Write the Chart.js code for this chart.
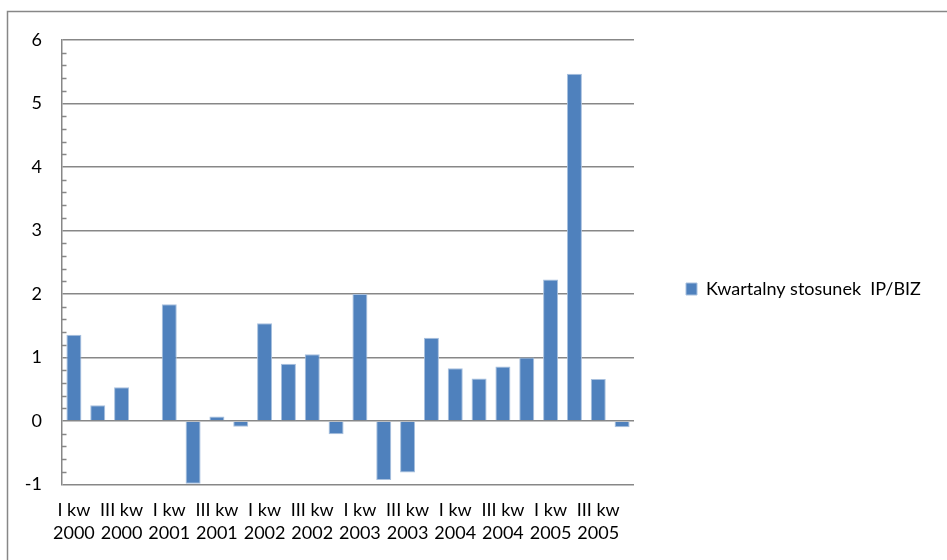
<!DOCTYPE html>
<html lang="pl">
<head>
<meta charset="utf-8">
<title>Kwartalny stosunek IP/BIZ</title>
<script src="https://cdn.jsdelivr.net/npm/chart.js@4/dist/chart.umd.min.js"></script>
<style>
  html, body { margin: 0; padding: 0; background: #ffffff; }
  #wrap { position: relative; width: 947px; height: 560px; }
</style>
</head>
<body>
<div id="wrap"><canvas id="chart" width="947" height="560"></canvas></div>
<script>
// Quarters 2000-2005
const quarters = [
  'I kw 2000', 'II kw 2000', 'III kw 2000', 'IV kw 2000',
  'I kw 2001', 'II kw 2001', 'III kw 2001', 'IV kw 2001',
  'I kw 2002', 'II kw 2002', 'III kw 2002', 'IV kw 2002',
  'I kw 2003', 'II kw 2003', 'III kw 2003', 'IV kw 2003',
  'I kw 2004', 'II kw 2004', 'III kw 2004', 'IV kw 2004',
  'I kw 2005', 'II kw 2005', 'III kw 2005', 'IV kw 2005'
];

// Quarterly IP/BIZ ratio
const ratioIpBiz = [
  1.36, 0.25, 0.53, null,
  1.84, -0.99, 0.07, -0.09,
  1.54, 0.90, 1.05, -0.21,
  2.00, -0.93, -0.81, 1.31,
  0.83, 0.67, 0.86, 1.00,
  2.23, 5.47, 0.66, -0.10
];

const seriesName = 'Kwartalny stosunek  IP/BIZ';
const yTicks = [-1, 0, 1, 2, 3, 4, 5, 6];

const GRID = '#878787';
const BAR = '#4f81bd';
const FONT = 'Lato, "Open Sans", "DejaVu Sans", sans-serif';
const FONT_SIZE = 18;

// Plot-area geometry inside the 947x560 canvas
const CANVAS_W = 947;
const PLOT_RIGHT = 634;
const LEGEND_PAD = 52;
const LEGEND_BOX = 11;

// Reserve exactly the room the legend needs on the right
const measure = document.createElement('canvas').getContext('2d');
measure.font = `${FONT_SIZE}px ${FONT}`;
const legendItemWidth = LEGEND_BOX + FONT_SIZE / 2 + measure.measureText(seriesName).width;
const legendWidth = LEGEND_PAD + legendItemWidth + 10;
const rightPad = CANVAS_W - PLOT_RIGHT - legendWidth;

// Outer frame of the chart object and the small inner ticks on the value axis
const decorations = {
  id: 'decorations',
  beforeDraw(chart) {
    const ctx = chart.ctx;
    ctx.save();
    ctx.strokeStyle = GRID;
    ctx.lineWidth = 1.5;
    ctx.strokeRect(7.5, 11.5, 1200, 1200);
    ctx.restore();
  },
  afterDraw(chart) {
    const y = chart.scales.y;
    const ctx = chart.ctx;
    const left = chart.chartArea.left;
    ctx.save();
    ctx.strokeStyle = GRID;
    ctx.lineWidth = 1.5;
    const lo = yTicks[0], hi = yTicks[yTicks.length - 1];
    for (let i = lo * 5; i <= hi * 5; i++) {
      if (i % 5 === 0) continue;
      const py = Math.round(y.getPixelForValue(i / 5)) + 0.5;
      ctx.beginPath();
      ctx.moveTo(left, py);
      ctx.lineTo(left + 4.5, py);
      ctx.stroke();
    }
    ctx.restore();
  }
};

new Chart(document.getElementById('chart'), {
  type: 'bar',
  data: {
    labels: quarters,
    datasets: [{
      label: seriesName,
      data: ratioIpBiz,
      backgroundColor: BAR,
      borderColor: '#a8c0de',
      borderWidth: 1,
      categoryPercentage: 0.63,
      barPercentage: 1.0
    }]
  },
  options: {
    responsive: false,
    animation: false,
    devicePixelRatio: 1,
    layout: { padding: { left: 7, top: 40, right: rightPad, bottom: 10 } },
    plugins: {
      tooltip: { enabled: false },
      legend: {
        position: 'right',
        align: 'center',
        fullSize: false,
        maxWidth: 600,
        title: { display: true, text: '', padding: { top: 41.5, bottom: 0 }, font: { size: 10 } },
        labels: {
          boxWidth: LEGEND_BOX,
          boxHeight: 12,
          padding: LEGEND_PAD,
          color: '#000000',
          font: { family: FONT, size: FONT_SIZE }
        }
      }
    },
    scales: {
      x: {
        type: 'category',
        offset: true,
        grid: { display: false, drawTicks: false },
        border: { display: false },
        afterFit(scale) { scale.height = 65.5; },
        ticks: {
          autoSkip: false,
          maxRotation: 0,
          minRotation: 0,
          padding: 14,
          color: '#000000',
          font: { family: FONT, size: FONT_SIZE, lineHeight: 1.28 },
          callback(value, index) {
            if (index % 2 !== 0) return '';
            const label = quarters[index];
            const cut = label.lastIndexOf(' ');
            return [label.slice(0, cut), label.slice(cut + 1)];
          }
        }
      },
      y: {
        min: yTicks[0],
        max: yTicks[yTicks.length - 1],
        afterBuildTicks(scale) {
          scale.ticks = yTicks.map(v => ({ value: v }));
        },
        afterFit(scale) { scale.width = 55; },
        grid: { color: GRID, lineWidth: 1.5, drawTicks: false },
        border: { display: true, color: GRID, width: 1.5 },
        ticks: {
          padding: 20,
          color: '#000000',
          font: { family: FONT, size: FONT_SIZE },
          callback: v => String(v)
        }
      }
    }
  },
  plugins: [decorations]
});
</script>
</body>
</html>
